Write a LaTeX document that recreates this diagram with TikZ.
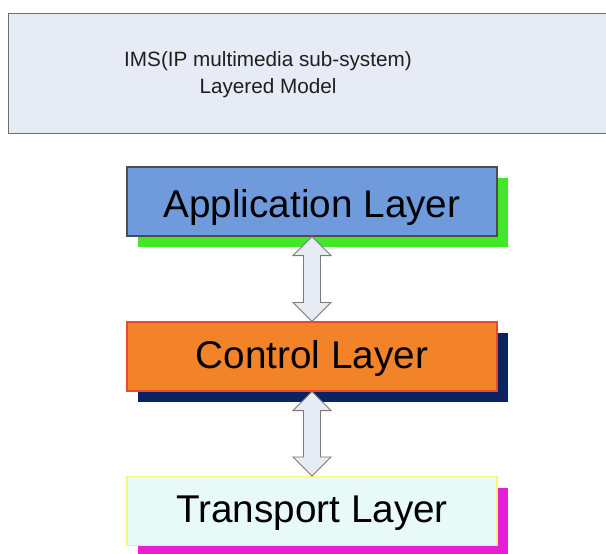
\documentclass[tikz,border=0pt]{standalone}
\usepackage{fontspec}
\setmainfont{Liberation Sans}
\usetikzlibrary{shadows,calc}
\definecolor{titlefill}{HTML}{E6EBF5}
\definecolor{titleline}{HTML}{6E6E6E}
\definecolor{appfill}{HTML}{6F9BDC}
\definecolor{appshadow}{HTML}{44E62A}
\definecolor{ctrlfill}{HTML}{F28328}
\definecolor{ctrlline}{HTML}{E84A30}
\definecolor{ctrlshadow}{HTML}{0B2362}
\definecolor{trfill}{HTML}{E8FAF8}
\definecolor{trline}{HTML}{F6F67A}
\definecolor{trshadow}{HTML}{E81ED8}
\definecolor{arrowfill}{HTML}{E6EBF4}
\definecolor{arrowline}{HTML}{7A7A7A}
\tikzset{
  layerbox/.style={draw, line width=1.1pt, minimum width=370pt, minimum height=69pt,
    inner sep=0pt, text height=28pt, text depth=5pt,
    font=\fontsize{38.7}{44}\selectfont, text=black},
  layershadow/.style={general shadow={fill=#1, shadow xshift=11pt, shadow yshift=-11pt}},
  blockarrow/.style={draw=arrowline, fill=arrowfill, line width=0.9pt, line join=miter}
}
% double-headed block arrow between the bottom of #1 and the top of #2
\newcommand{\layerlink}[2]{%
  \draw[blockarrow] let \p1=(#1.south), \p2=(#2.north) in
    (\x1,\y1) -- (\x1+19pt,\y1-19pt) -- (\x1+8.5pt,\y1-19pt)
    -- (\x1+8.5pt,\y2+19pt) -- (\x1+19pt,\y2+19pt) -- (\x2,\y2)
    -- (\x1-19pt,\y2+19pt) -- (\x1-8.5pt,\y2+19pt) -- (\x1-8.5pt,\y1-19pt)
    -- (\x1-19pt,\y1-19pt) -- cycle;}
\begin{document}
\begin{tikzpicture}[x=1pt,y=-1pt]
  \useasboundingbox (0,0) rectangle (606,554);
  % heading panel
  \node[draw=titleline, fill=titlefill, line width=1pt, minimum width=620pt,
    minimum height=120pt, inner sep=0pt, anchor=north west] (head) at (8,13) {};
  \node[align=center, font=\fontsize{20.7}{27}\selectfont, text=black!88] (title)
    at (268,75) {IMS(IP multimedia sub-system)\\Layered Model};
  % the three layers
  \node[layerbox, draw=black!70, fill=appfill, layershadow=appshadow,
    text height=31pt, text depth=0pt] (app)
    at (312,201.5) {Application Layer};
  \node[layerbox, draw=ctrlline, fill=ctrlfill, layershadow=ctrlshadow] (ctrl)
    at (312,356.5) {Control Layer};
  \node[layerbox, draw=trline, fill=trfill, layershadow=trshadow] (trans)
    at (312,511) {Transport Layer};
  % links between layers
  \layerlink{app}{ctrl}
  \layerlink{ctrl}{trans}
\end{tikzpicture}
\end{document}
